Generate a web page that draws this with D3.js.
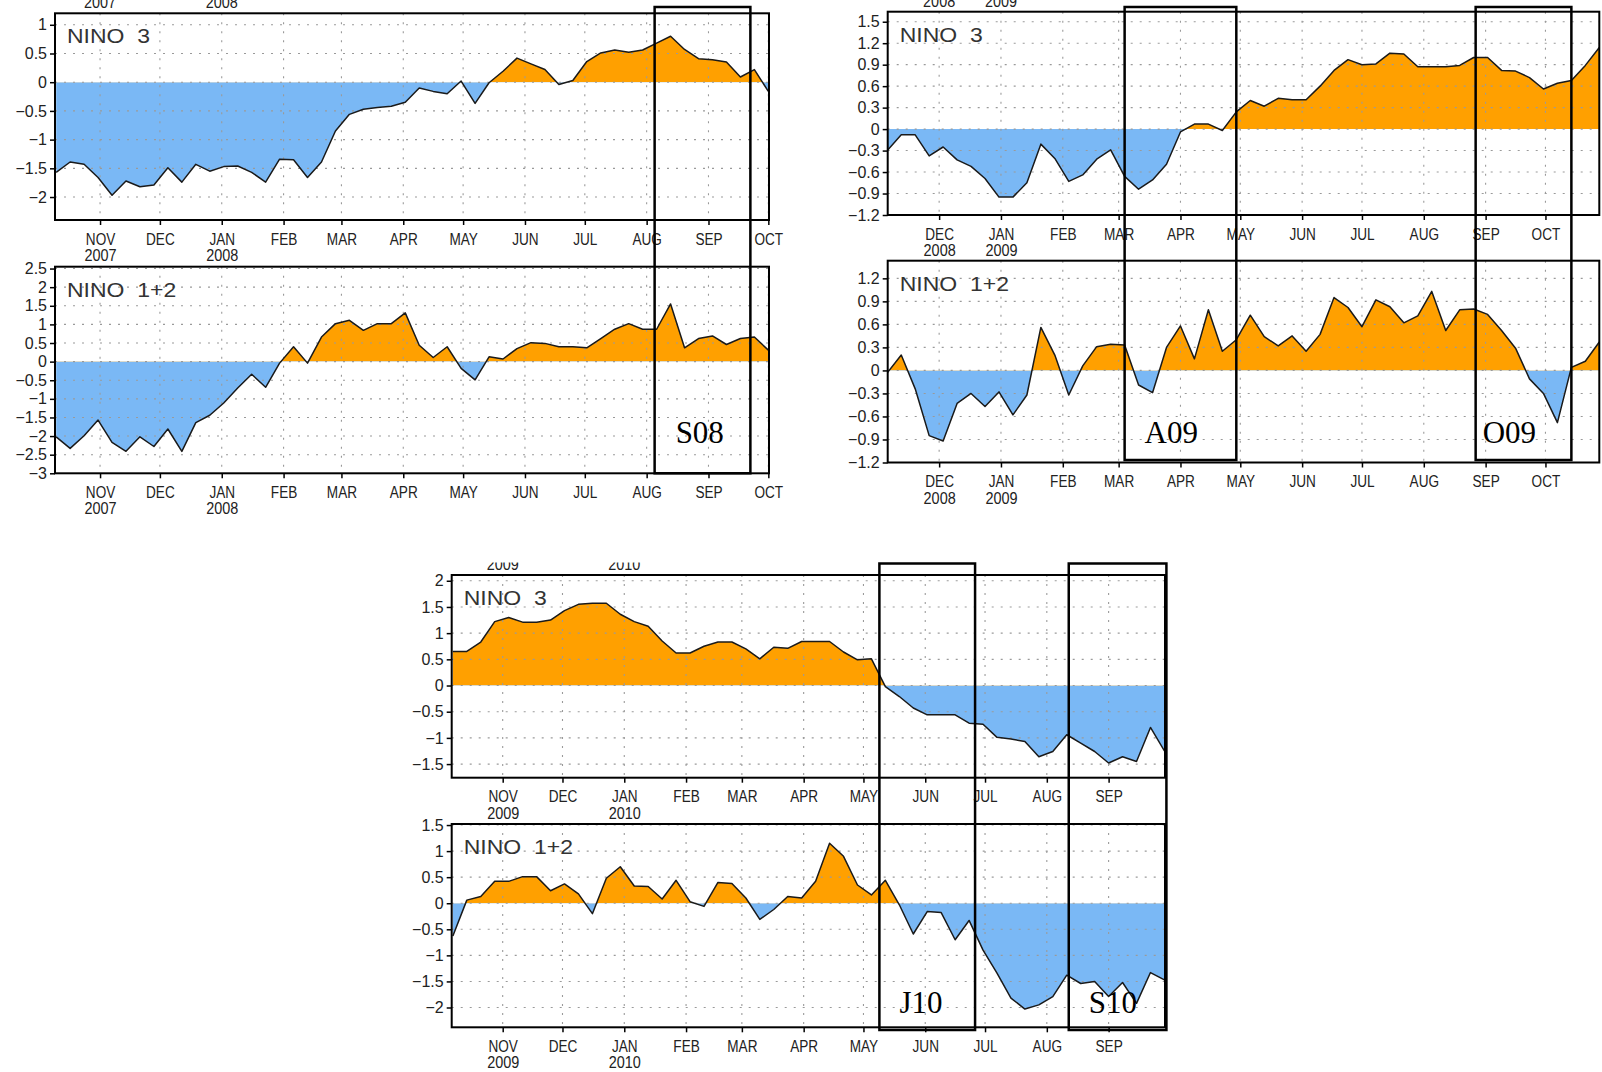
<!DOCTYPE html>
<html>
<head>
<meta charset="utf-8">
<script src="https://cdn.jsdelivr.net/npm/d3@7"></script>
<style>
  body { margin: 0; background: #fff; }
  svg { display: block; }
  text { font-family: "Liberation Sans", Arial, sans-serif; }
  text.box-label { font-family: "Liberation Serif", "Times New Roman", serif; }
</style>
</head>
<body>
<svg id="fig" width="1602" height="1072"></svg>
<script>
// Weekly SST anomalies (°C), NINO 3 and NINO 1+2, three 12-month windows.
const weekStartA = "2007-10-10";
const nino3A = [-1.57,-1.39,-1.43,-1.66,-1.97,-1.72,-1.82,-1.79,-1.49,-1.74,
  -1.43,-1.55,-1.47,-1.46,-1.57,-1.74,-1.34,-1.35,-1.66,-1.39,
  -0.85,-0.56,-0.47,-0.44,-0.42,-0.35,-0.10,-0.16,-0.20,0.02,
  -0.37,-0.01,0.19,0.42,0.32,0.22,-0.04,0.03,0.36,0.51,
  0.56,0.52,0.56,0.68,0.80,0.57,0.41,0.39,0.35,0.09,
  0.22,-0.16];
const nino12A = [-2.02,-2.33,-1.99,-1.57,-2.17,-2.41,-2.02,-2.28,-1.81,-2.41,
  -1.64,-1.44,-1.11,-0.71,-0.34,-0.69,-0.04,0.40,-0.04,0.66,
  1.02,1.11,0.84,1.02,1.02,1.31,0.44,0.11,0.40,-0.18,
  -0.49,0.13,0.07,0.35,0.51,0.49,0.40,0.40,0.37,0.62,
  0.87,1.02,0.87,0.87,1.55,0.37,0.62,0.69,0.46,0.62,
  0.66,0.31];

const weekStartB = "2008-11-05";
const nino3B = [-0.30,-0.08,-0.08,-0.375,-0.25,-0.43,-0.52,-0.69,-0.95,-0.95,
  -0.75,-0.21,-0.41,-0.73,-0.64,-0.42,-0.29,-0.66,-0.84,-0.71,
  -0.49,-0.04,0.07,0.07,-0.02,0.24,0.40,0.32,0.43,0.41,
  0.41,0.60,0.82,0.97,0.90,0.91,1.06,1.05,0.87,0.87,
  0.87,0.89,1.00,1.00,0.82,0.81,0.72,0.56,0.64,0.68,
  0.89,1.14];
const nino12B = [-0.03,0.20,-0.24,-0.85,-0.92,-0.43,-0.30,-0.47,-0.28,-0.58,
  -0.32,0.56,0.20,-0.32,0.06,0.31,0.34,0.33,-0.19,-0.29,
  0.30,0.58,0.15,0.79,0.25,0.40,0.72,0.44,0.32,0.45,
  0.25,0.47,0.95,0.82,0.57,0.92,0.83,0.62,0.71,1.03,
  0.52,0.79,0.80,0.73,0.52,0.29,-0.11,-0.30,-0.68,0.04,
  0.12,0.37];

const weekStartC = "2009-10-07";
const nino3C = [0.65,0.65,0.83,1.22,1.30,1.21,1.21,1.25,1.43,1.55,
  1.57,1.57,1.36,1.22,1.13,0.85,0.62,0.62,0.75,0.83,
  0.83,0.70,0.51,0.73,0.71,0.84,0.84,0.84,0.64,0.49,
  0.51,-0.02,-0.21,-0.43,-0.56,-0.56,-0.56,-0.72,-0.74,-0.99,
  -1.02,-1.07,-1.36,-1.26,-0.94,-1.10,-1.26,-1.48,-1.36,-1.45,
  -0.80,-1.25];
const nino12C = [-0.63,0.06,0.13,0.42,0.42,0.51,0.51,0.24,0.37,0.18,
  -0.20,0.48,0.70,0.33,0.32,0.08,0.44,0.03,-0.06,0.40,
  0.38,0.10,-0.31,-0.12,0.13,0.10,0.42,1.15,0.90,0.35,
  0.16,0.44,-0.03,-0.59,-0.16,-0.18,-0.70,-0.33,-0.90,-1.34,
  -1.82,-2.03,-1.95,-1.79,-1.38,-1.54,-1.50,-1.79,-1.52,-1.92,
  -1.33,-1.47];

// Y tick values
const yTicksA3  = [1, 0.5, 0, -0.5, -1, -1.5, -2];
const yTicksA12 = [2.5, 2, 1.5, 1, 0.5, 0, -0.5, -1, -1.5, -2, -2.5, -3];
const yTicksB3  = [1.5, 1.2, 0.9, 0.6, 0.3, 0, -0.3, -0.6, -0.9, -1.2];
const yTicksB12 = [1.2, 0.9, 0.6, 0.3, 0, -0.3, -0.6, -0.9, -1.2];
const yTicksC3  = [2, 1.5, 1, 0.5, 0, -0.5, -1, -1.5];
const yTicksC12 = [1.5, 1, 0.5, 0, -0.5, -1, -1.5, -2];

// Month ticks (first of month) and the years written under some of them
const monthTicksA = ["2007-11-01","2007-12-01","2008-01-01","2008-02-01","2008-03-01","2008-04-01",
  "2008-05-01","2008-06-01","2008-07-01","2008-08-01","2008-09-01","2008-10-01"];
const yearLabelsA = [["2007-11-01","2007"],["2008-01-01","2008"]];
const monthTicksB = ["2008-12-01","2009-01-01","2009-02-01","2009-03-01","2009-04-01","2009-05-01",
  "2009-06-01","2009-07-01","2009-08-01","2009-09-01","2009-10-01"];
const yearLabelsB = [["2008-12-01","2008"],["2009-01-01","2009"]];
const monthTicksC = ["2009-11-01","2009-12-01","2010-01-01","2010-02-01","2010-03-01","2010-04-01",
  "2010-05-01","2010-06-01","2010-07-01","2010-08-01","2010-09-01"];
const yearLabelsC = [["2009-11-01","2009"],["2010-01-01","2010"]];

// Highlighted months
const boxes = [
  {label: "S08", fig: "A", from: "2008-08-05", to: "2008-09-22"},
  {label: "A09", fig: "B", from: "2009-03-04", to: "2009-04-29"},
  {label: "O09", fig: "B", from: "2009-08-27", to: "2009-10-14"},
  {label: "J10", fig: "C", from: "2010-05-09", to: "2010-06-26"},
  {label: "S10", fig: "C", from: "2010-08-12", to: "2010-09-30"}
];

// ---------- layout ----------
const layout = {
  A: {x: [55, 769], dom: ["2007-10-09T10:00Z", "2008-10-01T08:00Z"],
      r3: [220, 13.3], r12: [473.3, 266.7], d3: [-2.4, 1.2], d12: [-3, 2.55],
      boxTop: 7, boxBottom: 473.3, ghostY: 8, ghostClip: [0, 20]},
  B: {x: [887.7, 1599.3], dom: ["2008-11-05T05:00Z", "2009-10-28T00:00Z"],
      r3: [215, 11.7], r12: [462.5, 260.7], d3: [-1.2, 1.64], d12: [-1.2, 1.43],
      boxTop: 7, boxBottom: 460, ghostY: 7, ghostClip: [0, 20]},
  C: {x: [451.7, 1165], dom: ["2009-10-06T10:00Z", "2010-09-29T07:00Z"],
      r3: [777.7, 575], r12: [1027.3, 824], d3: [-1.76, 2.11], d12: [-2.38, 1.52],
      boxTop: 563.5, boxBottom: 1030, ghostY: 570, ghostClip: [562.5, 575]}
};
const boxLabelPos = {S08: {dx: 21, y: 443}, A09: {dx: 20, y: 443}, O09: {dx: 7, y: 443},
                     J10: {dx: 20, y: 1013}, S10: {dx: 20, y: 1013}};

const figures = {
  A: {start: weekStartA, n3: nino3A, n12: nino12A, t3: yTicksA3, t12: yTicksA12, months: monthTicksA, years: yearLabelsA},
  B: {start: weekStartB, n3: nino3B, n12: nino12B, t3: yTicksB3, t12: yTicksB12, months: monthTicksB, years: yearLabelsB},
  C: {start: weekStartC, n3: nino3C, n12: nino12C, t3: yTicksC3, t12: yTicksC12, months: monthTicksC, years: yearLabelsC}
};

const ORANGE = "#ffa000", BLUE = "#7ab8f5";
const DAY = 864e5;
const parseDay = d3.utcParse("%Y-%m-%d");
const monthFmt = d => d3.utcFormat("%b")(d).toUpperCase();
const numFmt = v => (v < 0 ? "\u2212" : "") + String(Math.abs(v));

function weekly(start, values) {
  const t0 = parseDay(start);
  return values.map((v, i) => ({date: new Date(+t0 + i * 7 * DAY), value: v}));
}

const svg = d3.select("#fig");
svg.append("rect").attr("width", 1602).attr("height", 1072).attr("fill", "#fff");
const defs = svg.append("defs");
let uid = 0;

function drawPanel(x, y, series, yTicks, title, months, years) {
  const id = uid++;
  const [x0, x1] = x.range();
  const [yb, yt] = y.range();
  const zy = y(0);
  const g = svg.append("g");

  defs.append("clipPath").attr("id", "plot" + id)
    .append("rect").attr("x", x0).attr("y", yt).attr("width", x1 - x0).attr("height", yb - yt);
  defs.append("clipPath").attr("id", "pos" + id)
    .append("rect").attr("x", x0).attr("y", yt).attr("width", x1 - x0).attr("height", zy - yt);
  defs.append("clipPath").attr("id", "neg" + id)
    .append("rect").attr("x", x0).attr("y", zy).attr("width", x1 - x0).attr("height", yb - zy);

  const area = d3.area().x(d => x(d.date)).y0(zy).y1(d => y(d.value));
  const line = d3.line().x(d => x(d.date)).y(d => y(d.value));

  const plot = g.append("g").attr("clip-path", `url(#plot${id})`);
  plot.append("path").datum(series).attr("d", area).attr("fill", ORANGE)
    .attr("clip-path", `url(#pos${id})`);
  plot.append("path").datum(series).attr("d", area).attr("fill", BLUE)
    .attr("clip-path", `url(#neg${id})`);

  // dotted grid
  const [dlo, dhi] = y.domain();
  plot.append("g").selectAll("line").data(yTicks.filter(v => v > dlo + 1e-6 && v < dhi - 1e-6)).join("line")
    .attr("x1", x0).attr("x2", x1).attr("y1", d => y(d)).attr("y2", d => y(d))
    .attr("stroke", "#9a9a9a").attr("stroke-width", 1.1).attr("stroke-dasharray", "2,7");
  plot.append("g").selectAll("line").data(months).join("line")
    .attr("x1", d => x(d)).attr("x2", d => x(d)).attr("y1", yt).attr("y2", yb)
    .attr("stroke", "#9a9a9a").attr("stroke-width", 1.1).attr("stroke-dasharray", "2,7");

  plot.append("path").datum(series).attr("d", line).attr("fill", "none")
    .attr("stroke", "#1a1a1a").attr("stroke-width", 1.5).attr("stroke-linejoin", "round");

  // frame
  g.append("rect").attr("x", x0).attr("y", yt).attr("width", x1 - x0).attr("height", yb - yt)
    .attr("fill", "none").attr("stroke", "#000").attr("stroke-width", 2);

  // y axis
  g.append("g").attr("transform", `translate(${x0},0)`)
    .call(d3.axisLeft(y).tickValues(yTicks).tickSize(5).tickPadding(3).tickFormat(numFmt))
    .call(a => a.select(".domain").remove())
    .call(a => a.selectAll(".tick line").attr("stroke", "#000").attr("stroke-width", 1.5))
    .call(a => a.selectAll(".tick text").attr("fill", "#222").attr("font-size", 16));

  // x axis: month ticks, condensed labels, years underneath
  const yearMap = new Map(years.map(([d, t]) => [+d, t]));
  g.append("g").attr("transform", `translate(0,${yb})`)
    .call(d3.axisBottom(x).tickValues(months).tickSize(5).tickFormat(""))
    .call(a => a.select(".domain").remove())
    .call(a => a.selectAll(".tick line").attr("stroke", "#000").attr("stroke-width", 1.5))
    .call(a => a.selectAll(".tick").each(function (d) {
      const t = d3.select(this);
      t.select("text").remove();
      t.append("text").attr("transform", "translate(0,24.5) scale(0.8,1)")
        .attr("text-anchor", "middle").attr("fill", "#222").attr("font-size", 17)
        .text(monthFmt(d));
      if (yearMap.has(+d)) {
        t.append("text").attr("transform", "translate(0,41) scale(0.85,1)")
          .attr("text-anchor", "middle").attr("fill", "#222").attr("font-size", 17)
          .text(yearMap.get(+d));
      }
    }));

  // panel title
  g.append("text").attr("transform", `translate(${x0 + 12},${yt + 30}) scale(1.15,1)`)
    .attr("fill", "#333").attr("font-size", 20).style("white-space", "pre")
    .text(title);
}

const scales = {};
Object.entries(figures).forEach(([key, f]) => {
  const L = layout[key];
  const x = d3.scaleUtc().domain(L.dom.map(s => new Date(s))).range(L.x);
  scales[key] = x;
  const months = f.months.map(parseDay);
  const years = f.years.map(([d, t]) => [parseDay(d), t]);
  const y3 = d3.scaleLinear().domain(L.d3).range(L.r3);
  const y12 = d3.scaleLinear().domain(L.d12).range(L.r12);
  drawPanel(x, y3, weekly(f.start, f.n3), f.t3, "NINO  3", months, years);
  drawPanel(x, y12, weekly(f.start, f.n12), f.t12, "NINO  1+2", months, years);

  // year labels of the strip above, cut off at the top edge
  const gid = "ghost" + key;
  defs.append("clipPath").attr("id", gid).append("rect")
    .attr("x", L.x[0] - 60).attr("y", L.ghostClip[0])
    .attr("width", L.x[1] - L.x[0] + 120).attr("height", L.ghostClip[1] - L.ghostClip[0]);
  svg.append("g").attr("clip-path", `url(#${gid})`).selectAll("text").data(years).join("text")
    .attr("transform", d => `translate(${x(d[0])},${L.ghostY}) scale(0.85,1)`)
    .attr("text-anchor", "middle").attr("fill", "#222").attr("font-size", 17)
    .text(d => d[1]);
});

// highlighted-month boxes with their labels
boxes.forEach(b => {
  const L = layout[b.fig], x = scales[b.fig];
  const bx0 = x(parseDay(b.from)), bx1 = x(parseDay(b.to));
  svg.append("rect").attr("x", bx0).attr("y", L.boxTop)
    .attr("width", bx1 - bx0).attr("height", L.boxBottom - L.boxTop)
    .attr("fill", "none").attr("stroke", "#000").attr("stroke-width", 2.5);
  const p = boxLabelPos[b.label];
  svg.append("text").attr("class", "box-label").attr("x", bx0 + p.dx).attr("y", p.y)
    .attr("font-size", 31).attr("fill", "#000").text(b.label);
});
</script>
</body>
</html>
